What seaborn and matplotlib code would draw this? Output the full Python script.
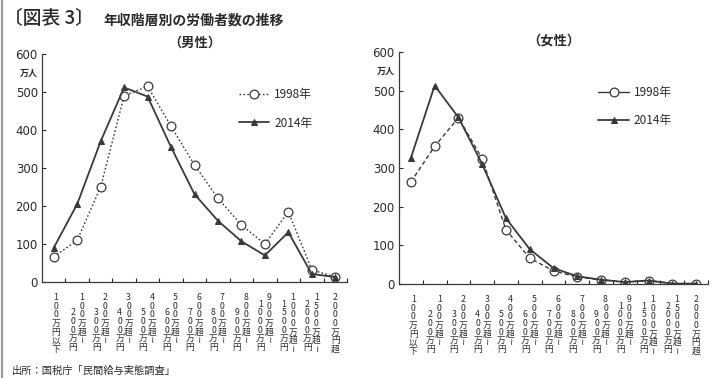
import matplotlib
matplotlib.use("Agg")
import matplotlib.pyplot as plt
import seaborn as sns
import pandas as pd
from matplotlib.lines import Line2D

# ---------------- data ----------------
categories = ["100万円以下", "100万超～200万円", "200万超～300万円", "300万超～400万円",
              "400万超～500万円", "500万超～600万円", "600万超～700万円", "700万超～800万円",
              "800万超～900万円", "900万超～1000万円", "1000万超～1500万円",
              "1500万超～2000万円", "2000万円超"]
label_first = ["100万円以下", "100万超～", "200万超～", "300万超～", "400万超～", "500万超～",
               "600万超～", "700万超～", "800万超～", "900万超～", "1000万超～", "1500万超～",
               "2000万円超"]
label_second = ["", "200万円", "300万円", "400万円", "500万円", "600万円", "700万円",
                "800万円", "900万円", "1000万円", "1500万円", "2000万円", ""]

male_1998 = [66, 110, 250, 490, 515, 410, 308, 220, 150, 100, 185, 32, 13]
male_2014 = [90, 205, 370, 512, 488, 355, 231, 161, 107, 70, 131, 21, 13]
female_1998 = [264, 356, 430, 324, 140, 67, 34, 18, 11, 5, 9, 1, 1]
female_2014 = [326, 513, 431, 310, 170, 90, 41, 20, 11, 5, 9, 1, 1]

years = ["1998年", "2014年"]
y_ticks = [0, 100, 200, 300, 400, 500, 600]

title_bracket = "〔図表 3〕"
title_main = "年収階層別の労働者数の推移"
panel_titles = ["（男性）", "（女性）"]
unit_label = "万人"
source_text = "出所：国税庁「民間給与実態調査」"

# ---------------- style ----------------
sns.set_theme(style="white")
plt.rcParams["font.family"] = ["Noto Sans CJK JP", "DejaVu Sans"]
INK = "#2a2a2a"
LINE = "#3a3a3a"
PX = 0.72  # points per pixel at dpi 100

fig = plt.figure(figsize=(7.15, 3.78), dpi=100)
fig.patch.set_facecolor("white")
ax1 = fig.add_axes([42 / 715, 1 - 282 / 378, 305 / 715, 228 / 378])
ax2 = fig.add_axes([399 / 715, 1 - 284 / 378, 309 / 715, 232 / 378])

x = list(range(len(categories)))


def draw_panel(ax, v98, v14, dash98, legend_anchor, title, solid_legend98):
    df98 = pd.DataFrame({"x": x, "v": v98})
    df14 = pd.DataFrame({"x": x, "v": v14})
    sns.lineplot(data=df98, x="x", y="v", ax=ax, color=LINE, lw=1.0,
                 linestyle=dash98, marker="o", markersize=6.3,
                 markerfacecolor="white", markeredgecolor=LINE,
                 markeredgewidth=0.9, label=years[0])
    sns.lineplot(data=df14, x="x", y="v", ax=ax, color=LINE, lw=1.3,
                 linestyle="-", marker="^", markersize=4.5,
                 markerfacecolor=LINE, markeredgecolor=LINE, label=years[1])
    ax.set_xlim(-0.5, len(categories) - 0.5)
    ax.set_ylim(0, 600)
    ax.set_yticks(y_ticks)
    ax.set_yticklabels([str(t) for t in y_ticks], fontsize=8.5, color=INK,
                       family=["DejaVu Sans"])
    ax.set_xticks([i + 0.5 for i in x])
    ax.set_xticklabels([])
    ax.tick_params(axis="y", direction="in", length=3, width=0.8, pad=3,
                   colors=INK, left=True)
    ax.tick_params(axis="x", direction="in", length=3, width=0.8, bottom=True)
    ax.set_xlabel("")
    ax.set_ylabel("")
    for s in ["top", "right"]:
        ax.spines[s].set_visible(False)
    for s in ["left", "bottom"]:
        ax.spines[s].set_color(LINE)
        ax.spines[s].set_linewidth(0.9)
    ax.set_facecolor("white")

    # unit label
    ax.annotate(unit_label, xy=(0, 550), xycoords=("axes fraction", "data"),
                xytext=(-4 * PX, 0), textcoords="offset points",
                ha="right", va="center", fontsize=6.5, weight="bold", color=INK)
    # panel title
    ax.annotate(title, xy=(0.5, 1), xycoords="axes fraction",
                xytext=(0, 11 * PX), textcoords="offset points",
                ha="center", va="center", fontsize=9.5, weight="bold", color=INK)

    # vertical category labels
    for i in x:
        first = label_first[i].replace("～", "≀")
        second = label_second[i]
        if second:
            ax.annotate("\n".join(first), xy=(i + 0.19, 0),
                        xycoords=("data", "axes fraction"),
                        xytext=(0, -11 * PX), textcoords="offset points",
                        ha="center", va="top", fontsize=6.3, linespacing=0.95,
                        color=INK)
            ax.annotate("\n".join(second), xy=(i - 0.19, 0),
                        xycoords=("data", "axes fraction"),
                        xytext=(0, -70 * PX), textcoords="offset points",
                        ha="center", va="bottom", fontsize=6.3, linespacing=0.95,
                        color=INK)
        else:
            ax.annotate("\n".join(first), xy=(i + (0.1 if i == 0 else 0), 0),
                        xycoords=("data", "axes fraction"),
                        xytext=(0, -11 * PX), textcoords="offset points",
                        ha="center", va="top", fontsize=6.3, linespacing=0.95,
                        color=INK)

    leg = ax.legend(loc="upper left", bbox_to_anchor=legend_anchor,
                    frameon=False, fontsize=8.5, handlelength=2.6,
                    handletextpad=0.4, labelspacing=1.3, borderpad=0,
                    borderaxespad=0)
    for t in leg.get_texts():
        t.set_color(INK)
    if solid_legend98:
        leg.legend_handles[0].set_linestyle("-")


draw_panel(ax1, male_1998, male_2014, (0, (1.2, 1.6)), (0.645, 0.85),
           panel_titles[0], False)
draw_panel(ax2, female_1998, female_2014, (0, (3, 2)), (0.645, 0.855),
           panel_titles[1], True)

# figure title
fig.text(4 / 715, 1 - 18 / 378, title_bracket, ha="left", va="center",
         fontsize=13.5, weight="medium", color=INK)
fig.text(103 / 715, 1 - 20 / 378, title_main, ha="left", va="center",
         fontsize=10, weight="bold", color=INK)
# source
fig.text(12 / 715, 1 - 371 / 378, source_text, ha="left", va="center",
         fontsize=7.4, color=INK)
# scan edge
fig.add_artist(Line2D([1.5 / 715, 1.5 / 715], [0, 1], transform=fig.transFigure,
                      color="#9a9a9a", lw=1.6))

fig.savefig("out.png", dpi=100, facecolor="white")
